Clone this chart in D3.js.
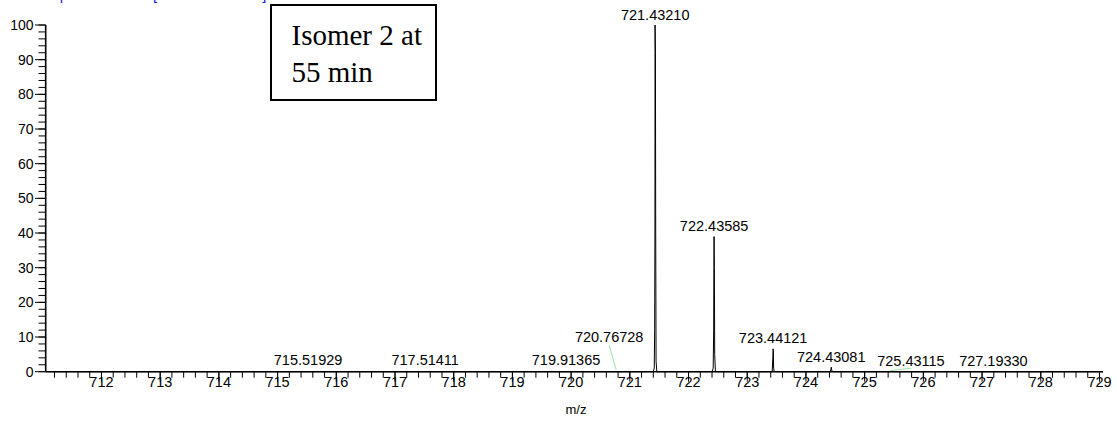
<!DOCTYPE html>
<html><head><meta charset="utf-8">
<script src="https://cdn.jsdelivr.net/npm/d3@7"></script>
<style>body{margin:0;background:#fff}svg{display:block}</style>
</head><body>
<svg id="c" width="1117" height="423"></svg>
<script>
// ---- data ----
const xTicks = [712,713,714,715,716,717,718,719,720,721,722,723,724,725,726,727,728,729];
const yTicks = [0,10,20,30,40,50,60,70,80,90,100];
// profile points [m/z, relative abundance]
const profileMz = [711.05, 721.400, 721.416, 721.423, 721.4275, 721.430, 721.436, 721.441, 721.447, 721.460,
  722.400, 722.420, 722.428, 722.432, 722.435, 722.440, 722.446, 722.458,
  723.425, 723.436, 723.440, 723.445, 723.449, 723.460,
  724.415, 724.426, 724.431, 724.436, 724.447, 729.06];
const profileInt = [0, 0, 1, 12, 40, 100, 92, 40, 3, 0,
  0, 1, 12, 30, 39, 30, 5, 0,
  0, 4, 6.6, 6, 1, 0,
  0, 0.8, 1.3, 0.8, 0, 0];
const peakLabels = ["715.51929","717.51411","719.91365","720.76728","721.43210","722.43585","723.44121","724.43081","725.43115","727.19330"];
const peakInt = [0.3, 0.3, 0.3, 0.3, 100, 39, 6.6, 1.3, 0, 0];
const headerText = "T: FTMS + p ESI Full ms [150.00-2000.00]";
const boxLines = ["Isomer 2 at", "55 min"];
const xTitle = "m/z";

// ---- layout ----
const svg = d3.select("#c");
const x = d3.scaleLinear().domain([711.05, 729.06]).range([45.7, 1103]);
const y = d3.scaleLinear().domain([0, 100]).range([371.7, 25]);
const sans = "'Liberation Sans', Arial, sans-serif";
const nudges = {"720.76728": [-7, -23, true], "725.43115": [21, 0, true]};

// header (cut off at the top, as in the reference)
svg.append("text").attr("x", -14).attr("y", -0.5).attr("font-family", sans)
  .attr("font-size", 15).attr("fill", "#1a1acc").text(headerText);

// x axis
const xMinor = d3.range(711.2, 729.05, 0.2);
const gx = svg.append("g");
gx.selectAll("line.mi").data(xMinor).join("line")
  .attr("x1", d => x(d)).attr("x2", d => x(d)).attr("y1", y(0)).attr("y2", y(0) + 6)
  .attr("stroke", "#000").attr("stroke-width", 1);
gx.selectAll("line.ma").data(xTicks).join("line")
  .attr("x1", d => x(d)).attr("x2", d => x(d)).attr("y1", y(0)).attr("y2", y(0) + 10)
  .attr("stroke", "#000").attr("stroke-width", 1);
gx.selectAll("text").data(xTicks).join("text")
  .attr("x", d => x(d)).attr("y", 387).attr("text-anchor", "middle")
  .attr("font-family", sans).attr("font-size", 14.5).text(d => d);
gx.append("line").attr("x1", x.range()[0]).attr("x2", x.range()[1])
  .attr("y1", y(0)).attr("y2", y(0)).attr("stroke", "#000").attr("stroke-width", 1.6);
svg.append("text").attr("x", 576).attr("y", 414).attr("text-anchor", "middle")
  .attr("font-family", sans).attr("font-size", 13).text(xTitle);

// y axis
const yMinor = d3.range(0, 100.1, 2);
const gy = svg.append("g");
gy.selectAll("line.mi").data(yMinor).join("line")
  .attr("x1", 38.5).attr("x2", 45.7).attr("y1", d => y(d)).attr("y2", d => y(d))
  .attr("stroke", "#000").attr("stroke-width", 1);
gy.selectAll("line.ma").data(yTicks).join("line")
  .attr("x1", 35).attr("x2", 45.7).attr("y1", d => y(d)).attr("y2", d => y(d))
  .attr("stroke", "#000").attr("stroke-width", 1);
gy.selectAll("text").data(yTicks).join("text")
  .attr("x", 33.5).attr("y", d => y(d) + 5).attr("text-anchor", "end")
  .attr("font-family", sans).attr("font-size", 14).text(d => d);
gy.append("line").attr("x1", 45.7).attr("x2", 45.7).attr("y1", y(100)).attr("y2", y(0))
  .attr("stroke", "#000").attr("stroke-width", 1.6);

// spectrum profile
const pts = profileMz.map((m, i) => [m, profileInt[i]]);
svg.append("path").datum(pts)
  .attr("d", d3.line().x(d => x(d[0])).y(d => y(d[1])))
  .attr("fill", "none").attr("stroke", "#000").attr("stroke-width", 1);

// peak labels
peakLabels.forEach((lab, i) => {
  const px = x(+lab), py = y(peakInt[i]) - 5.5;
  const n = nudges[lab] || [0, 0, false];
  const lx = px + n[0], ly = py + n[1];
  if (n[2]) {
    if (n[1] < 0) {
      svg.append("line").attr("x1", lx).attr("y1", ly + 3).attr("x2", px).attr("y2", y(0) - 2)
        .attr("stroke", "#9be3a8").attr("stroke-width", 1);
    } else {
      svg.append("line").attr("x1", px).attr("y1", y(0) - 1).attr("x2", px + 21).attr("y2", y(0) - 3.5)
        .attr("stroke", "#9be3a8").attr("stroke-width", 1);
    }
  }
  svg.append("text").attr("x", lx).attr("y", ly).attr("text-anchor", "middle")
    .attr("font-family", sans).attr("font-size", 14.5).text(lab);
});

// annotation box
svg.append("rect").attr("x", 271).attr("y", 5).attr("width", 165).attr("height", 95)
  .attr("fill", "#fff").attr("stroke", "#000").attr("stroke-width", 2);
boxLines.forEach((t, i) => {
  svg.append("text").attr("x", 291.5).attr("y", 45 + i * 36.7)
    .attr("font-family", "'Liberation Serif', 'Times New Roman', serif")
    .attr("font-size", 29).text(t);
});
</script>
</body></html>
